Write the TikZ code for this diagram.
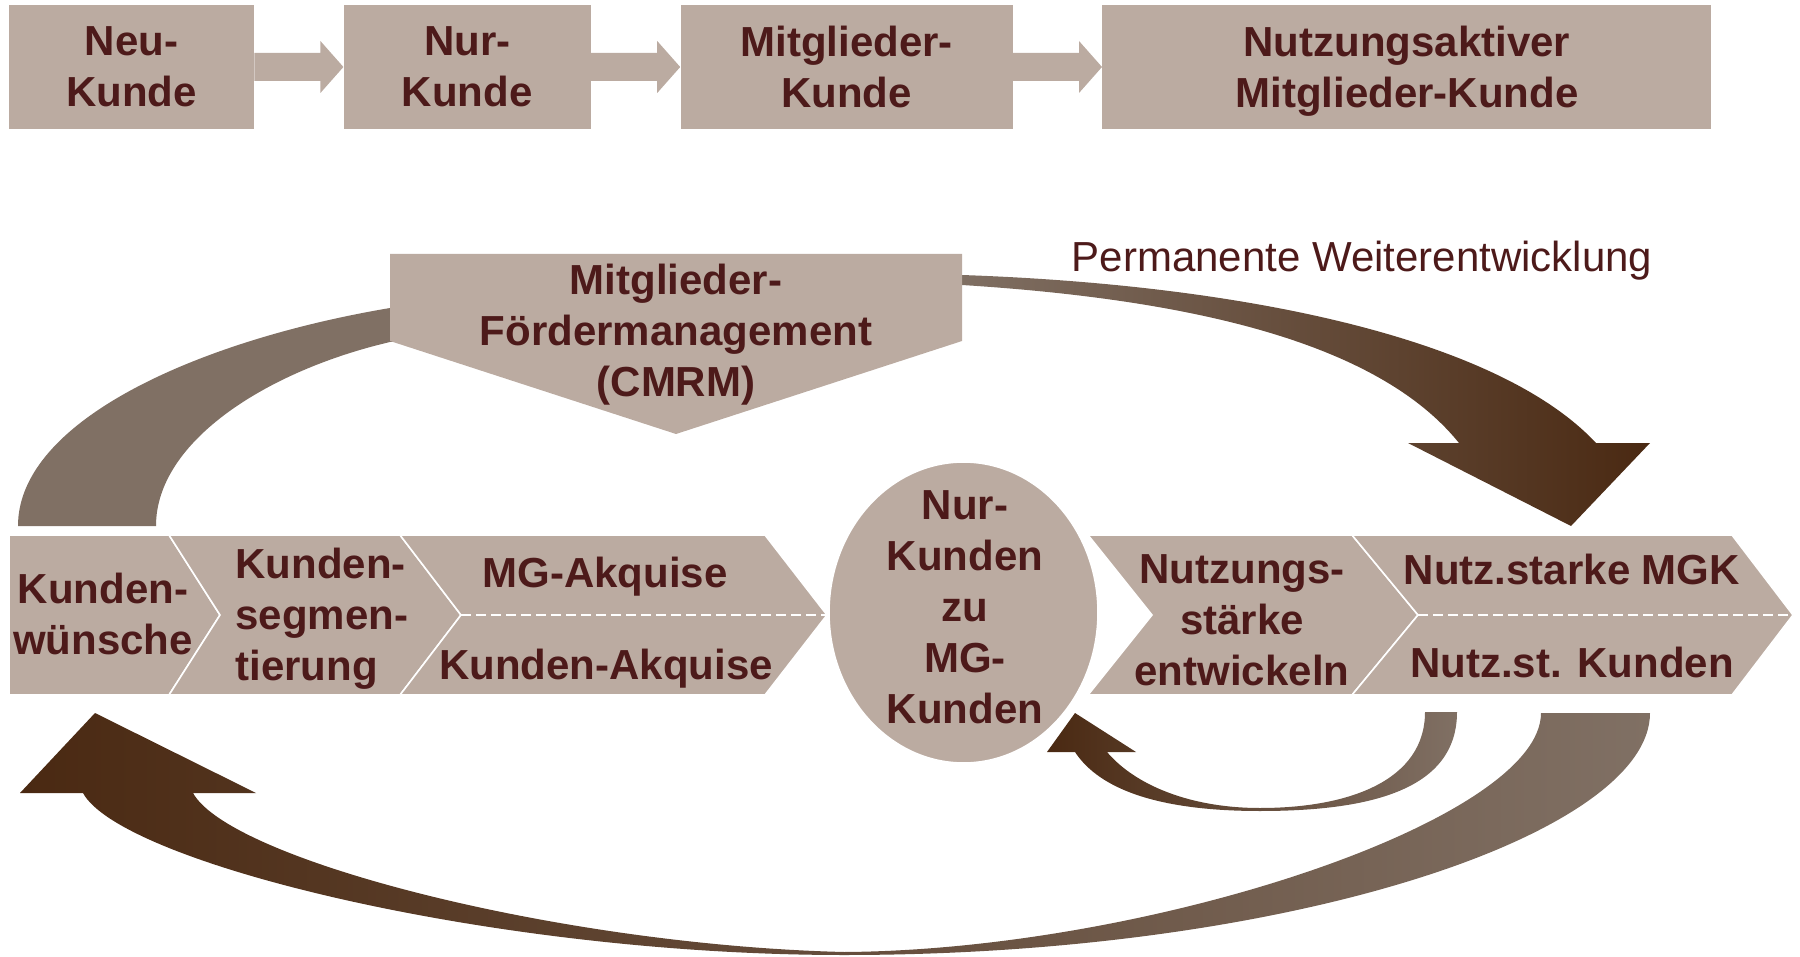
\documentclass[tikz,border=0pt]{standalone}
\usepackage{fontspec}
\setmainfont{Liberation Sans}
\usetikzlibrary{positioning,calc}
\definecolor{boxfill}{HTML}{BBABA1}
\definecolor{txtred}{HTML}{4D1A1A}
\definecolor{arclight}{HTML}{807064}
\definecolor{arcdark}{HTML}{4A2912}

\begin{document}
\begin{tikzpicture}[x=0.5pt, y=-0.5pt,
  font=\fontsize{21}{25.5}\selectfont\bfseries,
  stagebox/.style={fill=boxfill, text=txtred, align=center, inner sep=0pt,
                   minimum height=62pt},
  lbl/.style={text=txtred, align=center, inner sep=0pt},
  panel/.style={fill=boxfill, draw=white, line width=0.8pt},
  dashsep/.style={draw=white, line width=0.8pt, dash pattern=on 5pt off 2.5pt},
  arcband/.style={fill=arclight}]
\useasboundingbox (0,0) rectangle (1800,957);

% customer stages
\node[stagebox, minimum width=122.5pt] (neu) at (131.5,67) {Neu-\\Kunde};
\node[stagebox, minimum width=123.5pt, right=44.5pt of neu] (nur) {Nur-\\Kunde};
\node[stagebox, minimum width=166pt, right=44.5pt of nur] (mgk) {Mitglieder-\\Kunde};
\node[stagebox, minimum width=304.5pt, right=44.5pt of mgk] (nmk) {Nutzungsaktiver\\\smash{Mitglieder-Kunde}};
\foreach \a/\b in {neu/nur, nur/mgk, mgk/nmk}
  \fill[boxfill] ($(\a.east)+(0,-14)$) -- ($(\b.west)+(-23,-14)$) -- ($(\b.west)+(-23,-26)$)
    -- (\b.west) -- ($(\b.west)+(-23,26)$) -- ($(\b.west)+(-23,14)$) -- ($(\a.east)+(0,14)$) -- cycle;

% upper arcs
\fill[arcband] (18,526) .. controls (18,420) and (200,340) .. (390,308) -- (402,306)
  -- (402,342) -- (390,342) .. controls (270,370) and (156,440) .. (156,526) -- cycle;
\shade[left color=arclight, right color=arcdark] (950,275) -- (962,275)
  .. controls (1250,285) and (1500,340) .. (1596,443) -- (1650,443) -- (1571,526)
  -- (1408,443) -- (1459,443) .. controls (1380,345) and (1200,300) .. (962,285)
  -- (950,285) -- cycle;
\fill[boxfill] (390,254) -- (962,254) -- (962,341) -- (676,434) -- (390,341) -- cycle;
\node[lbl] (cmrm) at (676,335) {Mitglieder-\\Fördermanagement\\(CMRM)};
\node[text=txtred, inner sep=0pt, font=\fontsize{21}{25.5}\selectfont] (perm) at (1362,261)
  {Permanente Weiterentwicklung};

% process chain, left part
\path[panel] (9,535) -- (169,535) -- (220,615) -- (169,695) -- (9,695) -- cycle;
\path[panel] (169,535) -- (400,535) -- (461,615) -- (400,695) -- (169,695) -- (220,615) -- cycle;
\path[panel] (400,535) -- (765,535) -- (827,615) -- (765,695) -- (400,695) -- (461,615) -- cycle;
\draw[dashsep] (461,615) -- (827,615);
\node[lbl] (wunsch) at (103,614) {Kunden-\\wünsche};
\node[lbl, align=left, anchor=west] (segm) at (235,619) {Kunden-\\segmen-\\tierung};
\node[lbl] (mgakq) at (605,577) {MG-Akquise};
\node[lbl] (kdakq) at (606,669) {Kunden-Akquise};

% centre
\path[panel] (963.5,612.5) ellipse [x radius=134.5, y radius=150.5];
\node[lbl] (nurmg) at (965,607) {Nur-\\Kunden\\zu\\MG-\\Kunden};

% process chain, right part
\path[panel] (1088,535) -- (1352,535) -- (1418,615) -- (1352,695) -- (1088,695) -- (1152,615) -- cycle;
\path[panel] (1352,535) -- (1732,535) -- (1793,615) -- (1732,695) -- (1352,695) -- (1418,615) -- cycle;
\draw[dashsep] (1418,615) -- (1793,615);
\node[lbl] (nstark) at (1242,620) {Nutzungs-\\stärke\\entwickeln};
\node[lbl] (nsmgk) at (1572,569) {Nutz.starke MGK};
\node[lbl] (nskd) at (1572,662) {Nutz.st. Kunden};

% lower arcs
\shade[left color=arcdark, right color=arclight]
  (1541,713) -- (1650,713) .. controls (1650,833) and (1294,955) .. (844,955)
  .. controls (494,955) and (121,863) .. (83,793) -- (20,793) -- (95,713) -- (256,793)
  -- (193,793) .. controls (230,860) and (560,945) .. (844,952)
  .. controls (1150,950) and (1541,820) .. (1541,713) -- cycle;
\shade[left color=arcdark, right color=arclight]
  (1425,712) -- (1457,712) .. controls (1457,790) and (1370,811) .. (1260,811)
  .. controls (1160,811) and (1100,790) .. (1075,752) -- (1047,752) -- (1075,713)
  -- (1136,752) -- (1107,752) .. controls (1135,785) and (1190,808) .. (1260,808)
  .. controls (1350,808) and (1425,780) .. (1425,712) -- cycle;
\end{tikzpicture}
\end{document}
